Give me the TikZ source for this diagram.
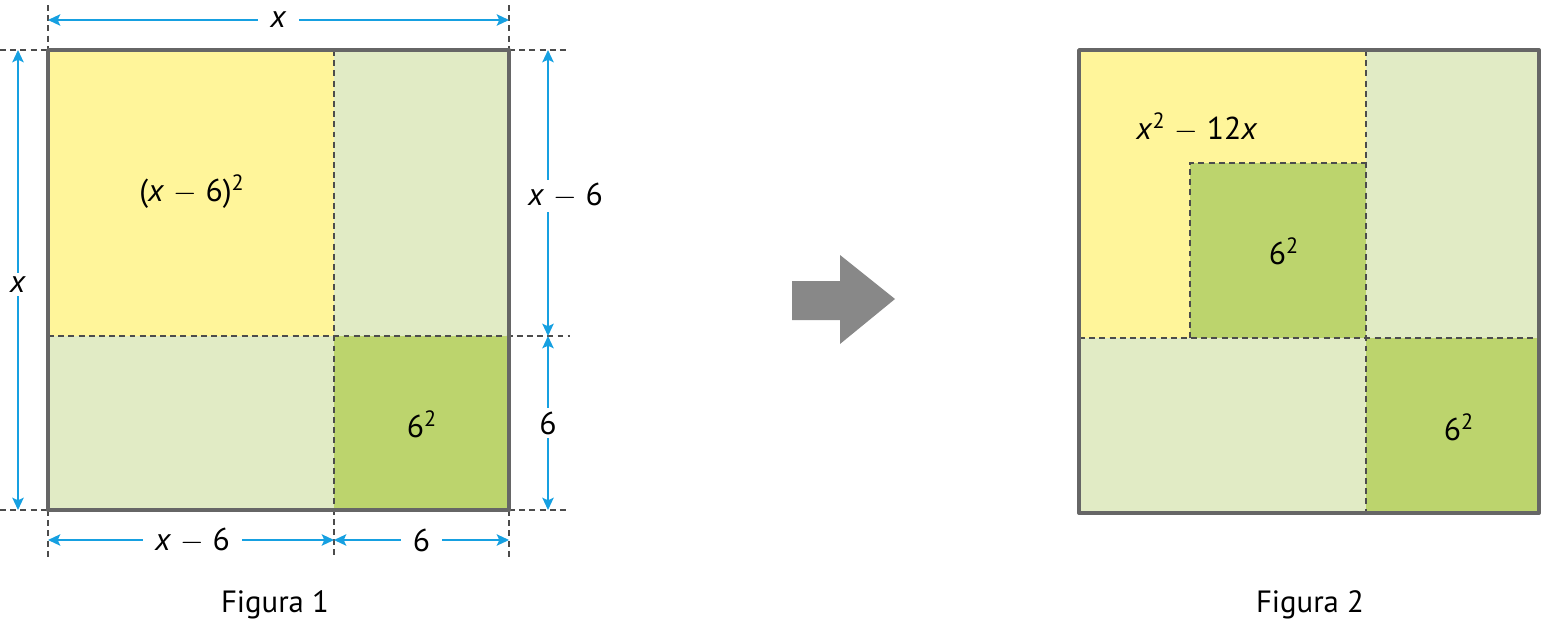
\documentclass[tikz,border=0pt]{standalone}
\usepackage{fontspec}
\setmainfont{PT Sans}
\usetikzlibrary{arrows.meta, positioning}
\definecolor{my_yellow}{RGB}{255, 245, 154}
\definecolor{my_lightgreen}{RGB}{225, 235, 197}
\definecolor{my_green}{RGB}{188, 212, 109}
\definecolor{my_blue}{RGB}{22, 160, 225}
\definecolor{my_gray}{RGB}{102, 102, 102}
\definecolor{my_arrow}{RGB}{136, 136, 136}
\tikzset {
  frame/.style = {draw=my_gray, line width=2.2pt, line join=round},
  cut/.style = {draw=black!70, line width=0.6pt, dash pattern=on 3.4pt off 2.4pt},
  dim/.style = {<->, draw=my_blue, line width=1.1pt, >={Stealth[length=7pt, width=6.5pt, inset=1.5pt]}},
  lbl/.style = {font=\fontsize{18}{20}\selectfont, inner sep=1pt},
  gap/.style = {lbl, fill=white, inner xsep=7pt, inner ysep=2pt},
  caption/.style = {font=\fontsize{17.5}{20}\selectfont}
}
\newcommand{\vx}{\textit{x}}
\newcommand{\sq}{\textsuperscript{2}}
\newcommand{\mn}{\hspace{0.28em}$-$\hspace{0.28em}}
\begin{document}
\begin{tikzpicture}[x=0.02cm, y=-0.02cm]
  \useasboundingbox (0,0) rectangle (1542,629);

  % Figura 1
  \fill[my_yellow] (48,50) rectangle (334,336);
  \fill[my_lightgreen] (334,50) rectangle (509,336);
  \fill[my_lightgreen] (48,336) rectangle (334,510);
  \fill[my_green] (334,336) rectangle (509,510);
  \draw[cut] (334,50) -- (334,558);
  \draw[cut] (0,50) -- (48,50) (509,50) -- (570,50);
  \draw[cut] (48,336) -- (570,336);
  \draw[cut] (0,510) -- (48,510) (509,510) -- (570,510);
  \draw[cut] (48,5) -- (48,50) (509,5) -- (509,50);
  \draw[cut] (48,510) -- (48,558) (509,510) -- (509,558);
  \draw[frame] (48,50) rectangle (509,510);

  \coordinate (tl) at (48,20);  \coordinate (tr) at (509,20);
  \coordinate (lt) at (18,50);  \coordinate (lb) at (18,510);
  \coordinate (rt) at (548,50); \coordinate (rm) at (548,336); \coordinate (rb) at (548,510);
  \coordinate (bl) at (48,540); \coordinate (bm) at (334,540); \coordinate (br) at (509,540);

  \draw[dim] (tl) -- (tr) node[gap, midway] {\vx};
  \draw[dim] (lt) -- (lb) node[gap, pos=0.51] {\vx};
  \draw[dim] (rt) -- (rm) node[gap, pos=0.51, xshift=10pt] {\vx\mn6};
  \draw[dim] (rm) -- (rb) node[gap, midway] {6};
  \draw[dim] (bl) -- (bm) node[gap, pos=0.505] {\vx\mn6};
  \draw[dim] (bm) -- (br) node[gap, midway] {6};

  \node[lbl] (sqa) at (192,192) {(\vx\mn6)\sq};
  \node[lbl] (sqb) at (422,424) {6\sq};
  \node[caption] (cap1) at (275,605) {Figura 1};

  % seta
  \fill[my_arrow] (792,281) -- (840,281) -- (840,255) -- (895,299)
    -- (840,344) -- (840,320) -- (792,320) -- cycle;

  % Figura 2
  \fill[my_yellow] (1079,50) rectangle (1366,338);
  \fill[my_lightgreen] (1366,50) rectangle (1539,338);
  \fill[my_lightgreen] (1079,338) rectangle (1366,513);
  \fill[my_green] (1366,338) rectangle (1539,513);
  \fill[my_green] (1190,163) rectangle (1366,338);
  \draw[cut] (1366,50) -- (1366,513);
  \draw[cut] (1079,338) -- (1539,338);
  \draw[cut] (1190,338) -- (1190,163) -- (1366,163);
  \draw[frame] (1079,50) rectangle (1539,513);

  \node[lbl] (poly) at (1197,127) {\vx\sq\mn12\vx};
  \node[lbl] (sqc) at (1284,251) {6\sq};
  \node[lbl] (sqd) at (1459,427) {6\sq};
  \node[caption] (cap2) at (1310,605) {Figura 2};
\end{tikzpicture}
\end{document}
